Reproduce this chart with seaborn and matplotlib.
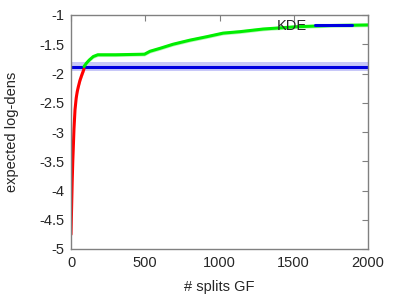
import numpy as np
import pandas as pd
import matplotlib
matplotlib.use("Agg")
import matplotlib.pyplot as plt
import seaborn as sns

# Data
red_x = [0, 4, 8, 12, 15, 20, 27, 35, 42, 49, 60, 72, 88]
red_y = [-4.75, -4.3, -3.85, -3.5, -3.3, -2.95, -2.62, -2.42, -2.31, -2.23, -2.12, -2.03, -1.92]
green_x = [88, 105, 123, 150, 180, 300, 495, 532, 599, 687, 801, 916, 1024, 1138, 1293, 1522, 1744, 2000]
green_y = [-1.88, -1.82, -1.77, -1.71, -1.68, -1.68, -1.67, -1.62, -1.57, -1.50, -1.43, -1.37, -1.31, -1.285, -1.24, -1.20, -1.18, -1.17]
kde_value = -1.885
kde_err = 0.08
green_err = 0.03
red_err = 0.05

xticks = [0, 500, 1000, 1500, 2000]
yticks = [-5, -4.5, -4, -3.5, -3, -2.5, -2, -1.5, -1]
ytick_labels = ["-5", "-4.5", "-4", "-3.5", "-3", "-2.5", "-2", "-1.5", "-1"]

sns.set_style("white")
plt.rcParams['font.family'] = ['Liberation Sans', 'DejaVu Sans']

fig = plt.figure(figsize=(3.95, 2.97), dpi=100)
ax = fig.add_axes([71/395, 1 - 249/297, 297/395, 234/297])

red_df = pd.DataFrame({"x": red_x, "y": red_y})
green_df = pd.DataFrame({"x": green_x, "y": green_y})
kde_df = pd.DataFrame({"x": [0, 2000], "y": [kde_value, kde_value]})

ax.fill_between([0, 2000], kde_value - kde_err, kde_value + kde_err, color="#c8c8f8", lw=0)
ax.fill_between(red_df.x, red_df.y - red_err, red_df.y + red_err, color="#f8b0b0", lw=0)
ax.fill_between(green_df.x, green_df.y - green_err, green_df.y + green_err, color="#b8f8b8", lw=0)

sns.lineplot(data=kde_df, x="x", y="y", ax=ax, color="#0000e0", lw=2.2, label="KDE")
sns.lineplot(data=red_df, x="x", y="y", ax=ax, color="#ff0000", lw=2.2, label="_nolegend_")
sns.lineplot(data=green_df, x="x", y="y", ax=ax, color="#00ee00", lw=2.2, label="_nolegend_")

ax.set_xlim(0, 2000)
ax.set_ylim(-5, -1)
ax.set_xticks(xticks)
ax.set_xticklabels([str(t) for t in xticks])
ax.set_yticks(yticks)
ax.set_yticklabels(ytick_labels)
ax.tick_params(direction="in", length=4, width=0.8, color="#808080", labelsize=10.5,
               top=True, right=True, pad=5)
for s in ax.spines.values():
    s.set_color("#808080")
    s.set_linewidth(1.0)
ax.set_xlabel("# splits GF", fontsize=10.5, labelpad=7)
ax.set_ylabel("expected log-dens", fontsize=10.5, labelpad=14)

leg = ax.legend(loc="upper right", frameon=False, markerfirst=False, fontsize=10.5,
                handlelength=2.5, handletextpad=0.6, borderaxespad=0.1,
                bbox_to_anchor=(0.97, 1.015))

fig.savefig("out.png", dpi=100)
